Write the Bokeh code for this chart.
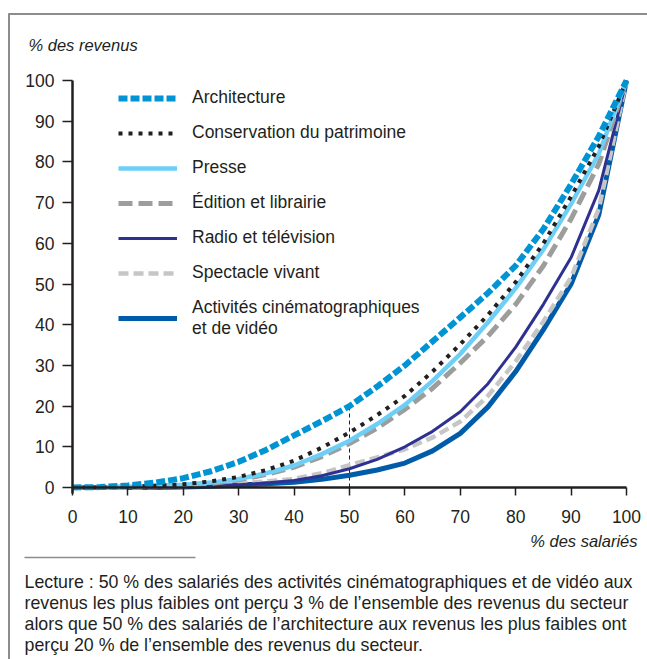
from bokeh.plotting import figure
from bokeh.models import Range1d, FixedTicker, Legend, LegendItem, Label
from bokeh.embed import file_html
from bokeh.resources import INLINE

# ---- data ----
pct_salaries = [0, 5, 10, 15, 20, 25, 30, 35, 40, 45, 50, 55, 60, 65, 70, 75, 80, 85, 90, 95, 100]
architecture = [0, 0.1, 0.5, 1.2, 2.3, 4.0, 6.3, 9.3, 12.8, 16.3, 20.0, 24.8, 30.0, 35.9, 41.8, 47.8, 54.5, 63.5, 74.5, 86.3, 100]
conservation = [0, 0, 0.2, 0.4, 0.8, 1.5, 2.6, 4.3, 6.6, 9.8, 13.5, 17.8, 22.5, 28.5, 35.2, 42.4, 50.5, 60.0, 71.5, 83.8, 100]
presse = [0, 0, 0.2, 0.4, 0.7, 1.2, 2.1, 3.5, 5.4, 8.2, 11.5, 15.6, 20.3, 26.2, 32.8, 40.6, 49.0, 58.5, 69.7, 82.0, 100]
edition = [0, 0, 0.1, 0.3, 0.5, 1.0, 1.9, 3.2, 5.0, 7.6, 10.8, 14.6, 19.2, 24.4, 30.6, 37.2, 45.0, 54.5, 66.0, 79.5, 100]
radio = [0, 0, 0, 0.1, 0.2, 0.4, 0.7, 1.1, 1.7, 2.9, 4.6, 6.9, 10.0, 13.8, 18.6, 25.5, 34.5, 45.0, 56.5, 73.0, 100]
spectacle = [0, 0, 0, 0.1, 0.3, 0.6, 1.0, 1.5, 2.1, 3.5, 5.5, 7.4, 9.4, 12.3, 16.2, 22.5, 31.0, 40.8, 51.6, 68.5, 100]
cinema = [0, 0, 0, 0, 0.1, 0.3, 0.6, 0.9, 1.3, 2.0, 3.0, 4.3, 6.0, 9.0, 13.3, 19.8, 28.5, 38.8, 50.0, 67.0, 100]

series_names = ["Architecture", "Conservation du patrimoine", "Presse", "Édition et librairie",
                "Radio et télévision", "Spectacle vivant",
                "Activités cinématographiques\net de vidéo"]
series_values = [architecture, conservation, presse, edition, radio, spectacle, cinema]
ticks = [0, 10, 20, 30, 40, 50, 60, 70, 80, 90, 100]
lecture_x = 50

y_title = "% des revenus"
x_title = "% des salariés"
note_lines = [
    "Lecture : 50 % des salariés des activités cinématographiques et de vidéo aux",
    "revenus les plus faibles ont perçu 3 % de l’ensemble des revenus du secteur",
    "alors que 50 % des salariés de l’architecture aux revenus les plus faibles ont",
    "perçu 20 % de l’ensemble des revenus du secteur.",
]

# ---- styles ----
styles = [
    dict(line_color="#0094d4", line_width=6, line_dash="9 3"),
    dict(line_color="#231f20", line_width=4, line_dash="4 6"),
    dict(line_color="#6dcff6", line_width=4.5, line_dash="solid"),
    dict(line_color="#9d9d9c", line_width=5, line_dash="14 6"),
    dict(line_color="#2e3192", line_width=3, line_dash="solid"),
    dict(line_color="#c6c6c6", line_width=4.5, line_dash="10 5"),
    dict(line_color="#005ba9", line_width=5, line_dash="solid"),
]

FONT = "Liberation Sans"
TXT = "#231f20"
GRAY = "#8c8c8c"

W, H = 647, 659
# pixel geometry of the plotting area (x: 0..100 -> 72..626 px ; y: 0..100 -> 487..80 px)
PX0, PX100, PY0, PY100 = 72.0, 626.0, 487.0, 80.0
sx = (PX100 - PX0) / 100.0
sy = (PY0 - PY100) / 100.0


def X(px):
    return (px - PX0) / sx


def Y(py):
    return (PY0 - py) / sy


p = figure(width=W, height=H, output_backend="svg", toolbar_location=None,
           x_range=Range1d(X(0), X(W)), y_range=Range1d(Y(H), Y(0)),
           min_border=0, title=None)
p.outline_line_color = None
p.grid.visible = False
p.background_fill_color = "white"
p.border_fill_color = "white"

for ax in (p.xaxis[0], p.yaxis[0]):
    ax.ticker = FixedTicker(ticks=ticks)
    ax.fixed_location = 0
    ax.axis_line_width = 2.5
    ax.axis_line_color = TXT
    ax.major_tick_line_width = 1.5
    ax.major_tick_line_color = TXT
    ax.minor_tick_line_color = None
    ax.major_tick_in = 0
    ax.major_label_text_font = FONT
    ax.major_label_text_font_size = "17.5px"
    ax.major_label_text_color = TXT
p.xaxis[0].bounds = (0, 100)
p.yaxis[0].bounds = (-1.5, 100)
p.xaxis[0].major_tick_out = 8
p.xaxis[0].major_label_standoff = 14
p.yaxis[0].major_tick_out = 10
p.yaxis[0].major_label_standoff = 8

# reading guide at 50 %
idx = pct_salaries.index(lecture_x)
p.segment(x0=[lecture_x], y0=[0], x1=[lecture_x], y1=[architecture[idx]],
          line_color="#231f20", line_width=1, line_dash="4 3")

renderers = [None] * len(series_values)
for i in reversed(range(len(series_values))):
    renderers[i] = p.line(pct_salaries, series_values[i], line_cap="butt", line_join="round", **styles[i])

items = [LegendItem(label=series_names[i], renderers=[renderers[i]]) for i in range(len(series_names))]
legend = Legend(items=items, location=(118, 320), glyph_width=59, glyph_height=20,
                label_standoff=15, spacing=14, padding=0, margin=0,
                border_line_color=None, background_fill_alpha=0,
                label_text_font=FONT, label_text_font_size="17.5px", label_text_color=TXT,
                label_height=20)
p.add_layout(legend)

p.add_layout(Label(x=X(28), y=Y(44), text=y_title, text_font=FONT, text_font_style="italic",
                   text_font_size="16.5px", text_color=TXT, text_baseline="middle"))
p.add_layout(Label(x=X(637), y=Y(540), text=x_title, text_font=FONT, text_font_style="italic",
                   text_font_size="16.5px", text_color=TXT, text_baseline="middle", text_align="right"))

for k, t in enumerate(note_lines):
    p.add_layout(Label(x=X(24), y=Y(581 + 21 * k), text=t, text_font=FONT, text_font_size="17.8px",
                       text_color=TXT, text_baseline="middle"))

# frame lines and separator
p.segment(x0=[X(8)], y0=[Y(13.5)], x1=[X(W)], y1=[Y(13.5)], line_color=GRAY, line_width=2)
p.segment(x0=[X(8.5)], y0=[Y(13)], x1=[X(8.5)], y1=[Y(H)], line_color=GRAY, line_width=2)
p.segment(x0=[X(24)], y0=[Y(557)], x1=[X(195)], y1=[Y(557)], line_color=GRAY, line_width=1.5)

open("out.html", "w").write(file_html(p, INLINE))
